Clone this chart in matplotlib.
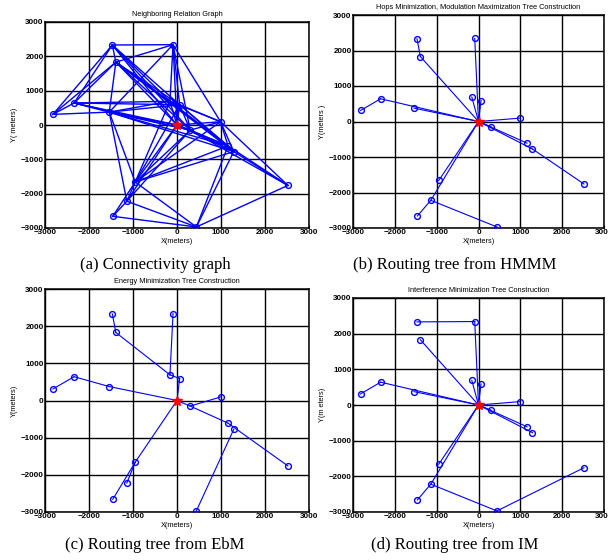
import matplotlib.pyplot as plt

# node coordinates (index 0 is the sink, drawn as a red star)
node_x = [0, -2820, -2340, -1540, -1470, -1390, -90, -160, 60, 990, 300, 1160, 1290, 2520, -950, -1140, -1460, 440]
node_y = [0, 310, 640, 375, 2330, 1830, 2340, 690, 590, 95, -150, -610, -775, -1760, -1660, -2220, -2660, -2970]

# (a) neighbouring relation graph
edges_a = [(1, 2), (1, 3), (1, 4), (1, 5),
           (2, 4), (2, 5), (2, 3), (2, 7), (2, 8), (2, 0), (2, 10),
           (3, 5), (3, 7), (3, 8), (3, 0), (3, 10), (3, 11), (3, 12), (3, 14), (3, 15),
           (4, 5), (4, 6), (4, 7), (4, 8), (4, 0), (4, 10),
           (5, 6), (5, 7), (5, 8), (5, 0), (5, 10), (5, 11), (5, 12),
           (6, 7), (6, 8), (6, 0), (6, 10), (6, 9), (6, 3),
           (7, 8), (7, 9), (7, 0), (7, 11), (7, 12), (7, 14),
           (8, 9), (8, 0), (8, 10), (8, 11), (8, 12), (8, 14),
           (9, 10), (9, 11), (9, 12), (9, 0), (9, 13), (9, 14),
           (10, 11), (10, 12), (10, 13), (10, 14), (10, 0), (10, 15),
           (0, 11), (0, 12), (0, 14), (0, 15),
           (11, 12), (11, 13), (11, 14), (11, 17),
           (12, 13), (12, 14), (12, 17), (13, 17),
           (14, 15), (14, 16), (14, 17), (15, 16), (15, 17), (16, 17)]

# (b) HMMM tree
edges_b = [(4, 5), (5, 0), (6, 0), (7, 0), (8, 0), (9, 0), (1, 2), (2, 0), (3, 0),
           (10, 0), (11, 0), (12, 0), (13, 12), (14, 0), (15, 0), (16, 15), (17, 15)]

# (c) EbM tree
edges_c = [(4, 5), (5, 7), (6, 7), (7, 8), (8, 0), (1, 2), (2, 3), (3, 0),
           (9, 10), (10, 0), (10, 11), (11, 13), (12, 17),
           (14, 0), (15, 14), (16, 14)]

# (d) IM tree
edges_d = [(4, 6), (6, 0), (5, 0), (7, 0), (8, 0), (9, 0), (1, 2), (2, 0), (3, 0),
           (10, 0), (11, 0), (12, 0), (14, 0), (15, 0), (16, 15), (15, 17), (17, 13)]

titles = ['Neighboring Relation Graph',
          'Hops Minimization, Modulation Maximization Tree Construction',
          'Energy Minimization Tree Construction',
          'Interference Minimization Tree Construction']
ylabels = ['Y( meters)', 'Y(meters )', 'Y(meters)', 'Y(m eters)']
captions = ['(a) Connectivity graph', '(b) Routing tree from HMMM',
            '(c) Routing tree from EbM', '(d) Routing tree from IM']
ticks = [-3000, -2000, -1000, 0, 1000, 2000, 3000]

W, H = 608, 560
fig = plt.figure(figsize=(W / 100, H / 100), dpi=100)

# panel boxes in pixels: left, right, top, bottom
boxes = [(45, 309, 22, 228), (353, 604, 15, 228), (45, 309, 289, 512), (353, 604, 298, 512)]
cap_pos = [(155, 265), (455, 265), (155, 545), (455, 545)]
all_edges = [edges_a, edges_b, edges_c, edges_d]

for k in range(4):
    l, r, t, b = boxes[k]
    ax = fig.add_axes([l / W, 1 - b / H, (r - l) / W, (b - t) / H])
    lw = 1.0 if k == 0 else 0.8
    for i, j in all_edges[k]:
        ax.plot([node_x[i], node_x[j]], [node_y[i], node_y[j]], color='#0000ff', lw=lw, zorder=2)
    ax.plot(node_x[1:], node_y[1:], 'o', mfc='none', mec='#0000ff', ms=4.2, mew=1.0, zorder=3)
    ax.plot(node_x[0], node_y[0], '*', color='red', ms=7, zorder=4)
    ax.set_xlim(-3000, 3000)
    ax.set_ylim(-3000, 3000)
    ax.set_xticks(ticks)
    ax.set_yticks(ticks)
    ax.grid(True, color='k', lw=1.0)
    ax.set_axisbelow(True)
    ax.tick_params(direction='in', length=2, labelsize=5.8, pad=1)
    for lab in ax.get_xticklabels() + ax.get_yticklabels():
        lab.set_fontweight('bold')
        lab.set_family('Liberation Sans')
    for s in ax.spines.values():
        s.set_linewidth(1.1)
    ax.set_title(titles[k], fontsize=5.3, family='Liberation Sans', pad=4)
    ax.set_xlabel('X(meters)', fontsize=5.3, family='Liberation Sans', labelpad=1)
    ax.set_ylabel(ylabels[k], fontsize=5.3, family='Liberation Sans', labelpad=2)
    cx, cy = cap_pos[k]
    fig.text(cx / W, 1 - cy / H, captions[k], fontsize=12, family='Liberation Serif',
             ha='center', va='center')

fig.savefig('out.png', dpi=100)
